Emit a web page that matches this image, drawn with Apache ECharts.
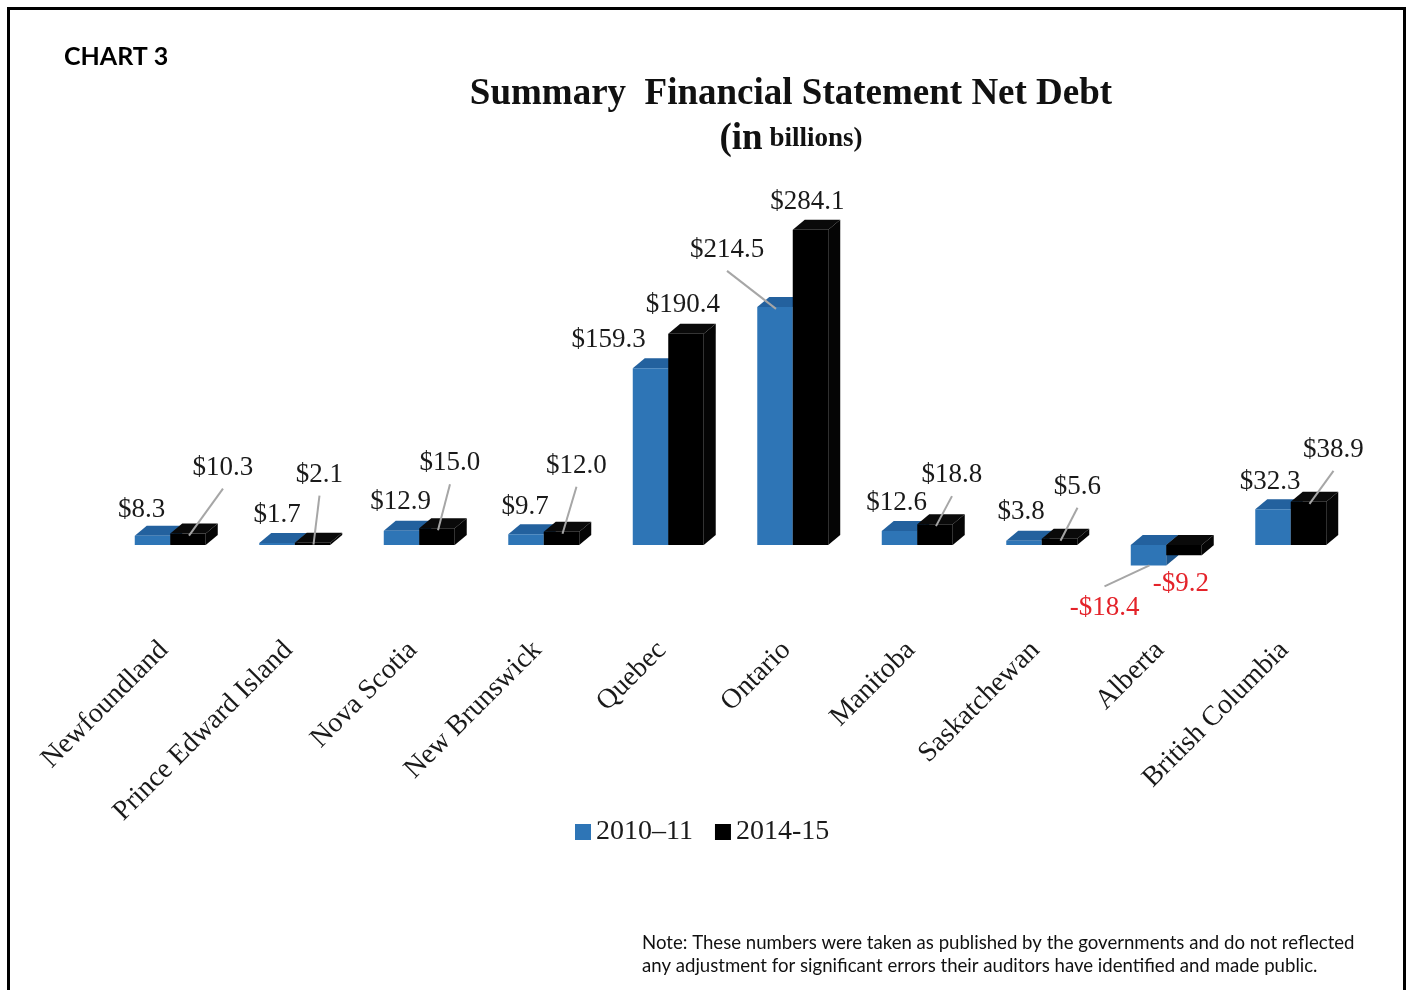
<!DOCTYPE html>
<html>
<head>
<meta charset="utf-8">
<title>Summary Financial Statement Net Debt</title>
<script src="https://cdn.jsdelivr.net/npm/echarts@6/dist/echarts.min.js"></script>
<style>
  html, body { margin: 0; padding: 0; background: #fff; }
  #chart { width: 1410px; height: 990px; }
</style>
</head>
<body>
<div id="chart"></div>
<script>
// Provinces and their net debt, in billions of dollars
const provinces = ['Newfoundland', 'Prince Edward Island', 'Nova Scotia', 'New Brunswick', 'Quebec',
  'Ontario', 'Manitoba', 'Saskatchewan', 'Alberta', 'British Columbia'];
const netDebt2010 = [8.3, 1.7, 12.9, 9.7, 159.3, 214.5, 12.6, 3.8, -18.4, 32.3];
const netDebt2014 = [10.3, 2.1, 15.0, 12.0, 190.4, 284.1, 18.8, 5.6, -9.2, 38.9];
const seriesNames = ['2010\u201311', '2014-15'];

// Value-label placement: [dx, dy, leader line] relative to the bar end
const labelPlace2010 = [[-11, -26, 0], [0, -28, 0], [-1, -29, 0], [-1, -27, 0], [-42, -28, 0],
  [-48, -57, 1], [-3, -28, 0], [-3, -29, 0], [-44, 42, 1], [-3, -27, 0]];
const labelPlace2014 = [[35, -66, 1], [7, -68, 1], [13, -65, 1], [15, -66, 1], [-3, -29, 0],
  [-3, -28, 0], [17, -49, 1], [18, -52, 1], [-3, 29, 0], [25, -52, 1]];

// Face colours for the box-shaped bars: front, top, side
const palette = [
  { front: '#2E75B6', top: '#23619E', side: '#1D548A' },
  { front: '#000000', top: '#0A0A0A', side: '#050505' }
];

const DEPTH_X = 12, DEPTH_Y = -10;
const BAR_RATIO = 0.285;
const SERIF = '"Liberation Serif", "Times New Roman", serif';

function fmt(v) {
  return (v < 0 ? '-$' : '$') + Math.abs(v).toFixed(1);
}

function makeRender(seriesIdx, places) {
  const col = palette[seriesIdx];
  return function (params, api) {
    const i = api.value(0);
    const v = api.value(1);
    const end = api.coord([i, v]);
    const base = api.coord([i, 0]);
    const band = api.size([1, 0])[0];
    const w = band * BAR_RATIO;
    const x0 = seriesIdx === 0 ? end[0] - w : end[0];
    const x1 = x0 + w;
    const yTop = Math.min(end[1], base[1]);
    const yBot = Math.max(end[1], base[1]);
    const children = [
      { type: 'polygon', shape: { points: [[x0, yTop], [x0 + DEPTH_X, yTop + DEPTH_Y], [x1 + DEPTH_X, yTop + DEPTH_Y], [x1, yTop]] },
        style: { fill: col.top } },
      { type: 'polygon', shape: { points: [[x1, yTop], [x1 + DEPTH_X, yTop + DEPTH_Y], [x1 + DEPTH_X, yBot + DEPTH_Y], [x1, yBot]] },
        style: { fill: col.side } },
      { type: 'rect', shape: { x: x0, y: yTop, width: w, height: yBot - yTop }, style: { fill: col.front } }
    ];
    const cx = x0 + w / 2;
    const p = places[params.dataIndex];
    const lx = cx + p[0], ly = end[1] + p[1];
    if (p[2]) {
      const sy = ly + (p[1] < 0 ? 21 : -21);
      children.push({ type: 'line', shape: { x1: lx, y1: sy, x2: cx + 1, y2: end[1] + (v < 0 ? 0 : 2) },
        style: { stroke: '#A6A6A6', lineWidth: 2 }, z2: 5 });
    }
    children.push({
      type: 'text', x: lx, y: ly, z2: 10,
      style: { text: fmt(v), fill: v < 0 ? '#E4232A' : '#1a1a1a', font: '27px ' + SERIF,
        align: 'center', verticalAlign: 'middle' }
    });
    return { type: 'group', children: children };
  };
}

const chart = echarts.init(document.getElementById('chart'));
chart.setOption({
  backgroundColor: '#ffffff',
  animation: false,
  title: [
    { text: 'CHART 3', left: 59, top: 39,
      textStyle: { fontFamily: 'Lato', fontWeight: 'bold', fontSize: 25, color: '#000' } },
    { text: 'Summary  Financial Statement Net Debt', left: 786, top: 71, textAlign: 'center',
      textStyle: { fontFamily: SERIF, fontWeight: 'bold', fontSize: 37, color: '#111' } },
    { text: '{big|(in} {small|billions)}', left: 786, top: 116, textAlign: 'center',
      textStyle: { fontFamily: SERIF, fontWeight: 'bold', fontSize: 28, color: '#111',
        rich: {
          big: { fontFamily: SERIF, fontWeight: 'bold', fontSize: 37, color: '#111' },
          small: { fontFamily: SERIF, fontWeight: 'bold', fontSize: 27, color: '#111' } } } },
    { text: 'Note: These numbers were taken as published by the governments and do not reflected\nany adjustment for significant errors their auditors have identified and made public.',
      left: 637, top: 926,
      textStyle: { fontFamily: 'Lato', fontWeight: 'normal', fontSize: 18.6, lineHeight: 23, color: '#111' } }
  ],
  legend: {
    data: seriesNames, left: 570, top: 813, icon: 'rect', itemWidth: 16, itemHeight: 16, itemGap: 22,
    textStyle: { fontFamily: SERIF, fontSize: 28, color: '#1a1a1a' }
  },
  grid: { left: 108, right: 57, top: 189.8, bottom: 378.4, containLabel: false },
  xAxis: {
    type: 'category', data: provinces,
    axisLine: { show: false, onZero: false }, axisTick: { show: false },
    axisLabel: { rotate: 45, margin: 28, interval: 0, fontFamily: SERIF, fontSize: 28, color: '#1a1a1a',
      padding: [0, 9, 17, 0] }
  },
  yAxis: { type: 'value', min: -60, max: 320, show: false },
  series: [
    { name: seriesNames[0], type: 'custom', itemStyle: { color: palette[0].front },
      renderItem: makeRender(0, labelPlace2010), data: netDebt2010.map((v, i) => [i, v]) },
    { name: seriesNames[1], type: 'custom', itemStyle: { color: palette[1].front },
      renderItem: makeRender(1, labelPlace2014), data: netDebt2014.map((v, i) => [i, v]) }
  ],
  graphic: [
    { type: 'rect', silent: true, z: 100,
      shape: { x: 8.5, y: 8.5, width: 1396, height: 1000 },
      style: { fill: 'none', stroke: '#000', lineWidth: 3 } }
  ]
});
</script>
</body>
</html>
